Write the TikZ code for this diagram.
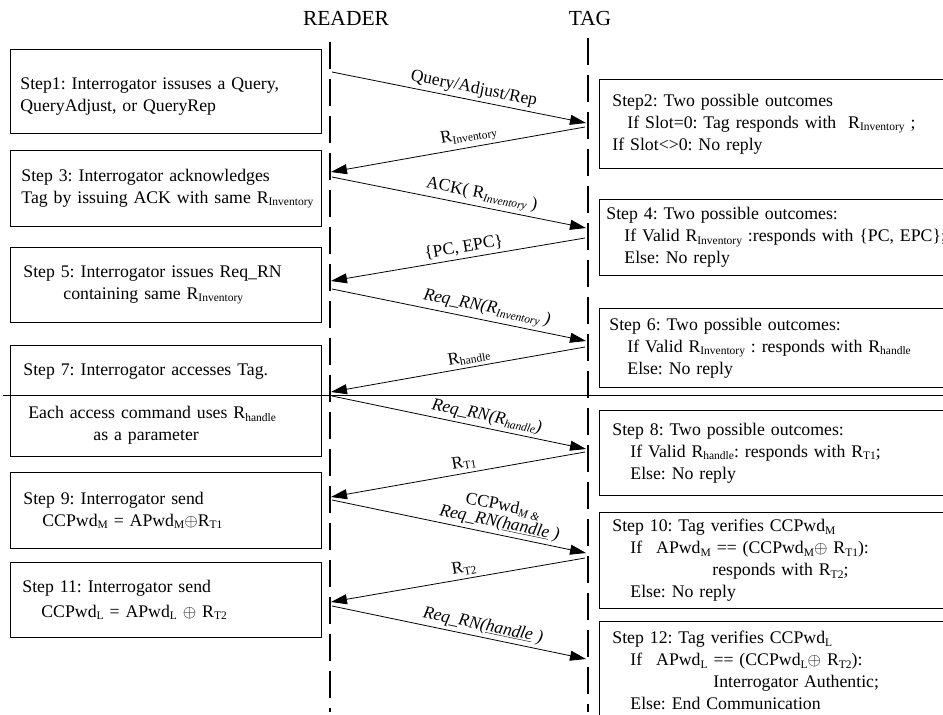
\documentclass[tikz,border=0pt]{standalone}
\usepackage{fontspec}
\setmainfont{Liberation Serif}
\usetikzlibrary{arrows.meta}
\frenchspacing
\newcommand{\low}[1]{\raisebox{-2.5pt}{\fontsize{11.5}{12}\selectfont #1}}

\begin{document}
\begin{tikzpicture}[x=1pt, y=-1pt,
  font=\fontsize{17.75}{22}\selectfont,
  head/.style={font=\fontsize{21.5}{24}\selectfont},
  lifeline/.style={line width=2.6pt, dash pattern=on 27pt off 10pt},
  msg/.style={-{Triangle[length=16pt,width=10pt]}, line width=0.8pt},
  lbl/.style={sloped, above=1pt, inner sep=2pt, font=\fontsize{17.5}{19}\selectfont},
  lstep/.style={draw, line width=0.8pt, anchor=north west, minimum width=311pt,
                text width=295pt, inner xsep=8pt, inner ysep=0pt, align=left},
  rstep/.style={draw, line width=0.8pt, anchor=north west, minimum width=370pt,
                text width=356pt, inner xsep=7pt, inner ysep=0pt, align=left}
]
  \useasboundingbox (0,0) rectangle (943,715);
  \clip (0,0) rectangle (943,715);

  % Headers and lifelines
  \node[head] (readerhd) at (346,18) {READER};
  \node[head] (taghd) at (590,18) {TAG};
  \coordinate (rtop) at (330,42);
  \coordinate (rbot) at (330,712);
  \coordinate (ttop) at (588,38);
  \coordinate (tbot) at (588,712);
  \draw[lifeline] (rtop) -- (rbot);
  \draw[lifeline] (ttop) -- (tbot);

  % Reader side
  \node[lstep, minimum height=84pt] (s1) at (10,49)
    {\hspace*{2pt}\rule{0pt}{23pt}Step1: Interrogator issuses a Query,\\
     \hspace*{2pt}QueryAdjust, or QueryRep};
  \node[lstep, minimum height=76pt] (s3) at (10,150)
    {\hspace*{3pt}Step 3: Interrogator acknowledges\\
     \hspace*{3pt}\mbox{Tag by issuing ACK with same R\low{Inventory}}};
  \node[lstep, minimum height=75pt] (s5) at (10,247)
    {\hspace*{5pt}Step 5: Interrogator issues Req\_RN\\
     \hspace*{45pt}containing same R\low{Inventory}};
  \node[lstep, minimum height=111pt] (s7) at (10,345)
    {\hspace*{5pt}\rule{0pt}{18pt}Step 7: Interrogator accesses Tag.\\[21pt]
     \hspace*{10pt}Each access command uses R\low{handle}\\
     \hspace*{75pt}as a parameter};
  \node[lstep, minimum height=76pt] (s9) at (10,472)
    {\hspace*{5pt}Step 9: Interrogator send\\
     \hspace*{24pt}CCPwd\low{M} = APwd\low{M}$\oplus$R\low{T1}};
  \node[lstep, minimum height=75pt] (s11) at (10,562)
    {\hspace*{4pt}Step 11: Interrogator send\\[3pt]
     \hspace*{23pt}CCPwd\low{L} = APwd\low{L} $\oplus$ R\low{T2}};

  % Tag side
  \node[rstep, minimum height=89pt] (s2) at (599,79)
    {\hspace*{6pt}Step2: Two possible outcomes\\
     \hspace*{21pt}If Slot=0: Tag responds with\ \ R\low{Inventory} ;\\
     \hspace*{6pt}If Slot<>0: No reply};
  \node[rstep, minimum height=76pt] (s4) at (599,199)
    {Step 4: Two possible outcomes:\\
     \hspace*{18pt}If Valid R\low{Inventory} :responds with \{PC, EPC\};\\
     \hspace*{18pt}Else: No reply};
  \node[rstep, minimum height=79pt] (s6) at (599,308)
    {\hspace*{3pt}Step 6: Two possible outcomes:\\
     \hspace*{21pt}If Valid R\low{Inventory} : responds with R\low{handle}\\
     \hspace*{21pt}Else: No reply};
  \node[rstep, minimum height=85pt] (s8) at (599,410)
    {\hspace*{6pt}Step 8: Two possible outcomes:\\
     \hspace*{24pt}If Valid R\low{handle}: responds with R\low{T1};\\
     \hspace*{24pt}Else: No reply};
  \node[rstep, minimum height=96pt] (s10) at (599,512)
    {\hspace*{6pt}Step 10: Tag verifies CCPwd\low{M}\\
     \hspace*{24pt}If\hspace{14pt}APwd\low{M} == (CCPwd\low{M}$\oplus$ R\low{T1}):\\
     \hspace*{106pt}responds with R\low{T2};\\
     \hspace*{24pt}Else: No reply};
  \node[rstep, minimum height=98pt] (s12) at (599,621)
    {\hspace*{6pt}Step 12: Tag verifies CCPwd\low{L}\\
     \hspace*{24pt}If\hspace{14pt}APwd\low{L} == (CCPwd\low{L}$\oplus$ R\low{T2}):\\
     \hspace*{107pt}Interrogator Authentic;\\
     \hspace*{24pt}Else: End Communication};

  % Message ends
  \coordinate (r1) at (332,72);   \coordinate (t1) at (586,123);
  \coordinate (t2) at (585,127);  \coordinate (r2) at (331,172);
  \coordinate (r3) at (332,177);  \coordinate (t3) at (586,228);
  \coordinate (t4) at (585,238);  \coordinate (r4) at (331,281);
  \coordinate (r5) at (332,289);  \coordinate (t5) at (586,341);
  \coordinate (t6) at (585,347);  \coordinate (r6) at (331,392);
  \coordinate (r7) at (332,396);  \coordinate (t7) at (586,449);
  \coordinate (t8) at (585,452);  \coordinate (r8) at (331,497);
  \coordinate (r9) at (332,500);  \coordinate (t9) at (586,553);
  \coordinate (t10) at (585,558); \coordinate (r10) at (331,602);
  \coordinate (r11) at (332,606); \coordinate (t11) at (586,659);

  % Arrows
  \draw[msg] (r1) -- node[lbl, pos=0.55] {Query/Adjust/Rep} (t1);
  \draw[msg] (t2) -- node[lbl, pos=0.45] {R\low{Inventory}} (r2);
  \draw[msg] (r3) -- node[lbl, pos=0.58] {ACK( R\low{\textit{Inventory}} )} (t3);
  \draw[msg] (t4) -- node[lbl, pos=0.47] {\{PC, EPC\}} (r4);
  \draw[msg] (r5) -- node[lbl, pos=0.6] {\textit{Req\_RN(R\low{Inventory} )}} (t5);
  \draw[msg] (t6) -- node[lbl, pos=0.45] {R\low{handle}} (r6);
  \draw[msg] (r7) -- node[lbl, pos=0.6] {\textit{Req\_RN(R\low{handle})}} (t7);
  \draw[msg] (t8) -- node[lbl, pos=0.47] {R\low{T1}} (r8);
  \draw[msg] (r9) -- node[lbl, pos=0.65, align=center]
    {CCPwd\low{\textit{M \&}}\\[-2pt] \textit{Req\_RN(\underline{handle} )}} (t9);
  \draw[msg] (t10) -- node[lbl, pos=0.47] {R\low{T2}} (r10);
  \draw[msg] (r11) -- node[lbl, pos=0.585] {\textit{Req\_RN(\underline{handle} )}} (t11);

  % Divider
  \coordinate (cutl) at (3,395);
  \coordinate (cutr) at (950,395);
  \draw[line width=0.8pt] (cutl) -- (cutr);
\end{tikzpicture}
\end{document}
